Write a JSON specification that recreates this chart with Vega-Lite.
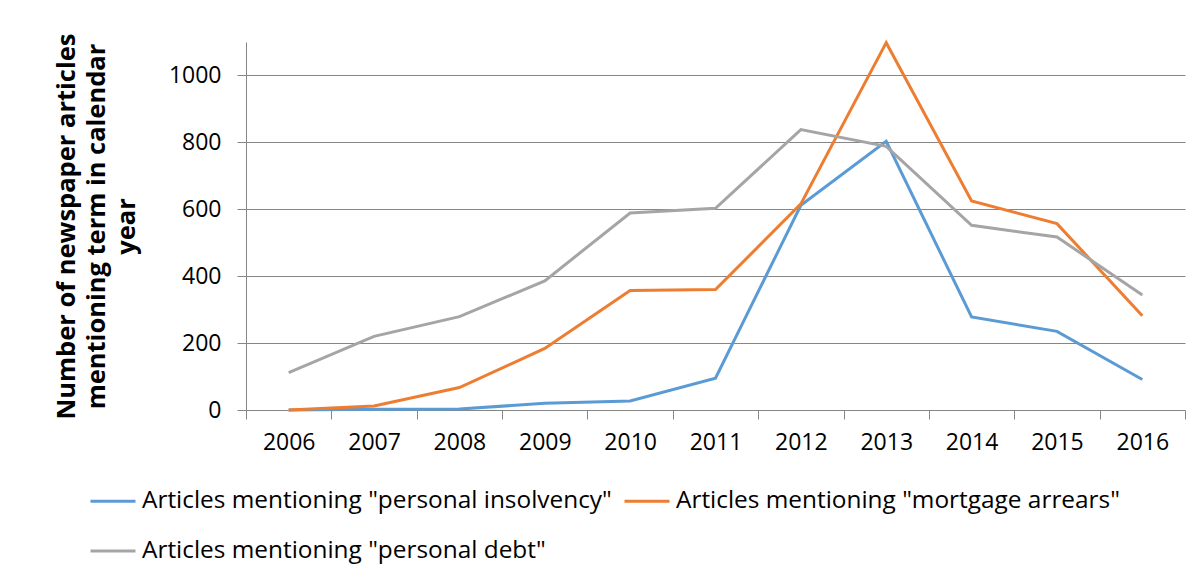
{
  "$schema": "https://vega.github.io/schema/vega-lite/v6.json",
  "width": 939,
  "height": 368,
  "autosize": {"type": "none"},
  "padding": {"left": 246, "top": 42, "right": 16, "bottom": 166},
  "background": "white",
  "config": {
    "font": "Open Sans",
    "view": {"stroke": null}
  },
  "data": {
    "values": [
      {"year": "2006", "series": "Articles mentioning \"personal insolvency\"", "count": 0},
      {"year": "2007", "series": "Articles mentioning \"personal insolvency\"", "count": 2},
      {"year": "2008", "series": "Articles mentioning \"personal insolvency\"", "count": 3},
      {"year": "2009", "series": "Articles mentioning \"personal insolvency\"", "count": 20},
      {"year": "2010", "series": "Articles mentioning \"personal insolvency\"", "count": 27},
      {"year": "2011", "series": "Articles mentioning \"personal insolvency\"", "count": 95},
      {"year": "2012", "series": "Articles mentioning \"personal insolvency\"", "count": 612},
      {"year": "2013", "series": "Articles mentioning \"personal insolvency\"", "count": 803},
      {"year": "2014", "series": "Articles mentioning \"personal insolvency\"", "count": 278},
      {"year": "2015", "series": "Articles mentioning \"personal insolvency\"", "count": 235},
      {"year": "2016", "series": "Articles mentioning \"personal insolvency\"", "count": 91},
      {"year": "2006", "series": "Articles mentioning \"mortgage arrears\"", "count": 0},
      {"year": "2007", "series": "Articles mentioning \"mortgage arrears\"", "count": 12},
      {"year": "2008", "series": "Articles mentioning \"mortgage arrears\"", "count": 67},
      {"year": "2009", "series": "Articles mentioning \"mortgage arrears\"", "count": 184},
      {"year": "2010", "series": "Articles mentioning \"mortgage arrears\"", "count": 357},
      {"year": "2011", "series": "Articles mentioning \"mortgage arrears\"", "count": 360},
      {"year": "2012", "series": "Articles mentioning \"mortgage arrears\"", "count": 616},
      {"year": "2013", "series": "Articles mentioning \"mortgage arrears\"", "count": 1098},
      {"year": "2014", "series": "Articles mentioning \"mortgage arrears\"", "count": 625},
      {"year": "2015", "series": "Articles mentioning \"mortgage arrears\"", "count": 557},
      {"year": "2016", "series": "Articles mentioning \"mortgage arrears\"", "count": 282},
      {"year": "2006", "series": "Articles mentioning \"personal debt\"", "count": 112},
      {"year": "2007", "series": "Articles mentioning \"personal debt\"", "count": 220},
      {"year": "2008", "series": "Articles mentioning \"personal debt\"", "count": 279},
      {"year": "2009", "series": "Articles mentioning \"personal debt\"", "count": 386},
      {"year": "2010", "series": "Articles mentioning \"personal debt\"", "count": 589},
      {"year": "2011", "series": "Articles mentioning \"personal debt\"", "count": 603},
      {"year": "2012", "series": "Articles mentioning \"personal debt\"", "count": 838},
      {"year": "2013", "series": "Articles mentioning \"personal debt\"", "count": 788},
      {"year": "2014", "series": "Articles mentioning \"personal debt\"", "count": 552},
      {"year": "2015", "series": "Articles mentioning \"personal debt\"", "count": 517},
      {"year": "2016", "series": "Articles mentioning \"personal debt\"", "count": 344}
    ]
  },
  "mark": {"type": "line", "strokeWidth": 3, "strokeJoin": "miter"},
  "encoding": {
    "x": {
      "field": "year",
      "type": "ordinal",
      "bandPosition": 0.5,
      "scale": {"type": "band", "paddingInner": 0, "paddingOuter": 0},
      "axis": {
        "title": null,
        "labelAngle": 0,
        "labelFontSize": 23,
        "labelColor": "#000000",
        "labelPadding": 12,
        "tickBand": "extent",
        "tickColor": "#868686",
        "tickSize": 9,
        "domainColor": "#868686",
        "grid": false
      }
    },
    "y": {
      "field": "count",
      "type": "quantitative",
      "scale": {"domain": [0, 1100], "nice": false},
      "axis": {
        "values": [0, 200, 400, 600, 800, 1000],
        "format": "d",
        "title": ["Number of newspaper articles", "mentioning term in calendar", "year"],
        "titleFontSize": 25.5,
        "titleFontWeight": "bold",
        "titleColor": "#000000",
        "titleLineHeight": 30,
        "titleAngle": -90,
        "titleAlign": "center",
        "titleBaseline": "top",
        "titleX": -192,
        "titleY": 184,
        "labelFontSize": 23,
        "labelColor": "#000000",
        "labelPadding": 16,
        "tickColor": "#868686",
        "tickSize": 9,
        "domainColor": "#868686",
        "gridColor": "#868686",
        "gridOpacity": 1
      }
    },
    "color": {
      "field": "series",
      "type": "nominal",
      "scale": {
        "domain": ["Articles mentioning \"personal insolvency\"", "Articles mentioning \"personal debt\"", "Articles mentioning \"mortgage arrears\""],
        "range": ["#5B9BD5", "#A5A5A5", "#ED7D31"]
      },
      "legend": {
        "title": null,
        "orient": "none",
        "legendX": -157,
        "legendY": 435,
        "columns": 2,
        "columnPadding": 6,
        "rowPadding": 14,
        "symbolType": "stroke",
        "symbolSize": 2025,
        "symbolStrokeWidth": 3,
        "labelFontSize": 24.4,
        "labelColor": "#000000",
        "labelOffset": 5,
        "labelLimit": 600
      }
    }
  }
}
